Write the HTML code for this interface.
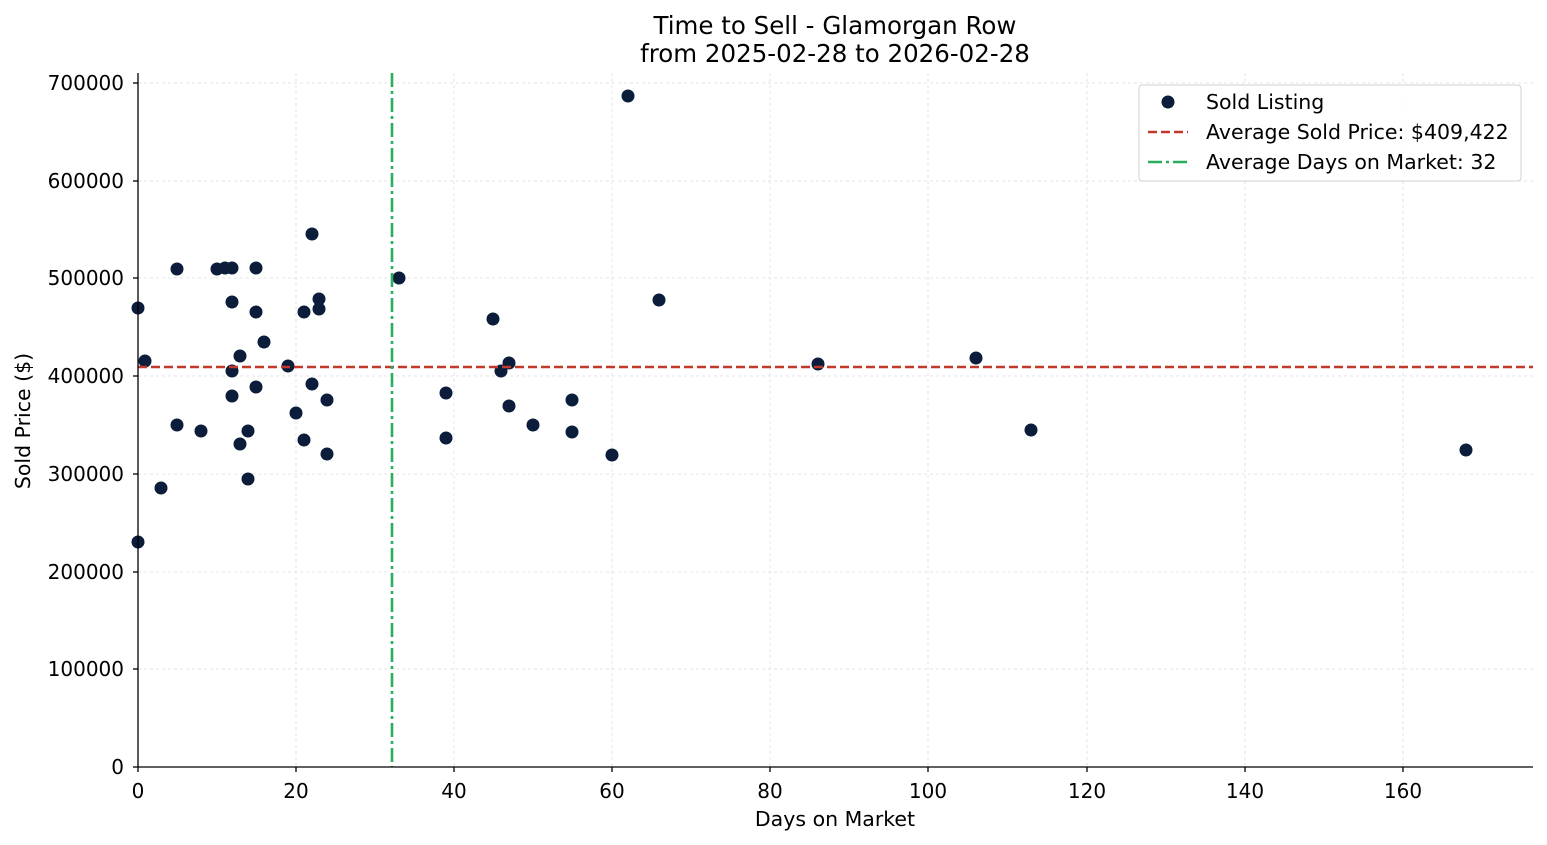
<!DOCTYPE html>
<html><head><meta charset="utf-8"><style>
html,body{margin:0;padding:0;background:#fff}
svg{display:block;font-family:"DejaVu Sans","Liberation Sans",sans-serif}
</style></head><body>
<svg width="1547" height="845" viewBox="0 0 1547 845" xmlns="http://www.w3.org/2000/svg">
<rect width="1547" height="845" fill="#fff"/>
<g stroke="#dcdcdc" stroke-width="0.8" stroke-dasharray="3,3">
<line x1="296" y1="73" x2="296" y2="767"/><line x1="454" y1="73" x2="454" y2="767"/>
<line x1="612" y1="73" x2="612" y2="767"/><line x1="770" y1="73" x2="770" y2="767"/>
<line x1="928" y1="73" x2="928" y2="767"/><line x1="1087" y1="73" x2="1087" y2="767"/>
<line x1="1245" y1="73" x2="1245" y2="767"/><line x1="1403" y1="73" x2="1403" y2="767"/>
<line x1="138" y1="669" x2="1533" y2="669"/><line x1="138" y1="572" x2="1533" y2="572"/>
<line x1="138" y1="474" x2="1533" y2="474"/><line x1="138" y1="376" x2="1533" y2="376"/>
<line x1="138" y1="278" x2="1533" y2="278"/><line x1="138" y1="181" x2="1533" y2="181"/>
<line x1="138" y1="83" x2="1533" y2="83"/>
</g>
<g fill="#0b1d3a">
<circle cx="138" cy="308" r="6.5"/><circle cx="145" cy="361" r="6.5"/><circle cx="138" cy="542" r="6.5"/><circle cx="161" cy="488" r="6.5"/><circle cx="177" cy="269" r="6.5"/><circle cx="177" cy="425" r="6.5"/><circle cx="201" cy="431" r="6.5"/><circle cx="217" cy="269" r="6.5"/><circle cx="225" cy="268" r="6.5"/><circle cx="232" cy="268" r="6.5"/><circle cx="232" cy="302" r="6.5"/><circle cx="232" cy="371" r="6.5"/><circle cx="232" cy="396" r="6.5"/><circle cx="240" cy="356" r="6.5"/><circle cx="240" cy="444" r="6.5"/><circle cx="248" cy="431" r="6.5"/><circle cx="248" cy="479" r="6.5"/><circle cx="256" cy="268" r="6.5"/><circle cx="256" cy="312" r="6.5"/><circle cx="256" cy="387" r="6.5"/><circle cx="264" cy="342" r="6.5"/><circle cx="288" cy="366" r="6.5"/><circle cx="296" cy="413" r="6.5"/><circle cx="304" cy="312" r="6.5"/><circle cx="304" cy="440" r="6.5"/><circle cx="312" cy="234" r="6.5"/><circle cx="312" cy="384" r="6.5"/><circle cx="319" cy="299" r="6.5"/><circle cx="319" cy="309" r="6.5"/><circle cx="327" cy="400" r="6.5"/><circle cx="327" cy="454" r="6.5"/><circle cx="399" cy="278" r="6.5"/><circle cx="446" cy="393" r="6.5"/><circle cx="446" cy="438" r="6.5"/><circle cx="493" cy="319" r="6.5"/><circle cx="501" cy="371" r="6.5"/><circle cx="509" cy="363" r="6.5"/><circle cx="509" cy="406" r="6.5"/><circle cx="533" cy="425" r="6.5"/><circle cx="572" cy="400" r="6.5"/><circle cx="572" cy="432" r="6.5"/><circle cx="612" cy="455" r="6.5"/><circle cx="628" cy="96" r="6.5"/><circle cx="659" cy="300" r="6.5"/><circle cx="818" cy="364" r="6.5"/><circle cx="976" cy="358" r="6.5"/><circle cx="1031" cy="430" r="6.5"/><circle cx="1466" cy="450" r="6.5"/>
</g>
<line x1="138" y1="367" x2="1533" y2="367" stroke="#c0392b" stroke-width="2.6" stroke-dasharray="9,4"/>
<line x1="392" y1="73" x2="392" y2="767" stroke="#27ae60" stroke-width="2.6" stroke-dasharray="14,4,3,4"/>
<g stroke="#000" stroke-width="1.3">
<line x1="138" y1="73" x2="138" y2="767"/><line x1="138" y1="767" x2="1533" y2="767"/>
<line x1="138" y1="767" x2="138" y2="772"/><line x1="296" y1="767" x2="296" y2="772"/><line x1="454" y1="767" x2="454" y2="772"/><line x1="612" y1="767" x2="612" y2="772"/><line x1="770" y1="767" x2="770" y2="772"/><line x1="928" y1="767" x2="928" y2="772"/><line x1="1087" y1="767" x2="1087" y2="772"/><line x1="1245" y1="767" x2="1245" y2="772"/><line x1="1403" y1="767" x2="1403" y2="772"/>
<line x1="133" y1="767" x2="138" y2="767"/><line x1="133" y1="669" x2="138" y2="669"/><line x1="133" y1="572" x2="138" y2="572"/><line x1="133" y1="474" x2="138" y2="474"/><line x1="133" y1="376" x2="138" y2="376"/><line x1="133" y1="278" x2="138" y2="278"/><line x1="133" y1="181" x2="138" y2="181"/><line x1="133" y1="83" x2="138" y2="83"/>
</g>
<g font-size="20" fill="#000" text-anchor="middle">
<text x="138" y="798">0</text><text x="296" y="798">20</text><text x="454" y="798">40</text><text x="612" y="798">60</text><text x="770" y="798">80</text><text x="928" y="798">100</text><text x="1087" y="798">120</text><text x="1245" y="798">140</text><text x="1403" y="798">160</text>
</g>
<g font-size="20" fill="#000" text-anchor="end">
<text x="124" y="774">0</text><text x="124" y="676">100000</text><text x="124" y="579">200000</text><text x="124" y="481">300000</text><text x="124" y="383">400000</text><text x="124" y="285">500000</text><text x="124" y="188">600000</text><text x="124" y="90">700000</text>
</g>
<text x="835" y="826" font-size="20.5" text-anchor="middle">Days on Market</text>
<text x="30" y="421" font-size="20.5" text-anchor="middle" transform="rotate(-90 30 421)">Sold Price ($)</text>
<text x="835" y="34" font-size="24.5" text-anchor="middle">Time to Sell - Glamorgan Row</text>
<text x="835" y="62" font-size="24.5" text-anchor="middle">from 2025-02-28 to 2026-02-28</text>
<rect x="1139" y="85" width="382" height="96" rx="3" fill="#fff" fill-opacity="0.85" stroke="#d0d0d0"/>
<circle cx="1168" cy="102" r="6.5" fill="#0b1d3a"/>
<line x1="1148" y1="132" x2="1188" y2="132" stroke="#c0392b" stroke-width="2.6" stroke-dasharray="9,4"/>
<line x1="1148" y1="162" x2="1188" y2="162" stroke="#27ae60" stroke-width="2.6" stroke-dasharray="14,4,3,4"/>
<g font-size="20.5" fill="#000">
<text x="1206" y="109">Sold Listing</text>
<text x="1206" y="139">Average Sold Price: $409,422</text>
<text x="1206" y="169">Average Days on Market: 32</text>
</g>
</svg>
</body></html>
